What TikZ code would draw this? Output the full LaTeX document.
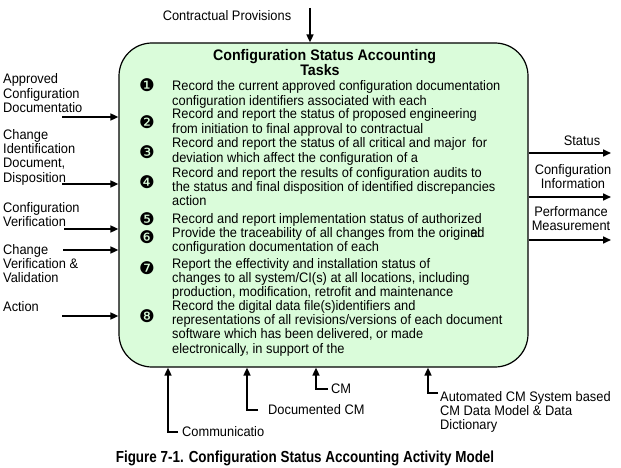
\documentclass[tikz,border=0pt]{standalone}
\usepackage{fontspec}
\setmainfont[FakeStretch=0.93]{Liberation Sans}
\newfontfamily\capfont[FakeStretch=0.84]{Liberation Sans}
\newfontfamily\dingfont{DejaVu Sans}
\usetikzlibrary{arrows.meta}
\definecolor{boxgreen}{RGB}{218,252,218}
\newcommand{\bodyfont}{\fontsize{13.8}{14.4}\selectfont}
\newcommand{\titlefont}{\bfseries\fontsize{15.3}{16}\selectfont}
\begin{document}
% note: multi-line nodes below are anchored at the baseline of their LAST line
\begin{tikzpicture}[x=1pt,y=-1pt]
\tikzset{
  lbl/.style={inner sep=0pt, anchor=base west, align=left, font=\bodyfont},
  clbl/.style={inner sep=0pt, anchor=base, align=center, font=\bodyfont},
  task/.style={inner sep=0pt, anchor=base west, align=left, font=\bodyfont},
  bul/.style={inner sep=0pt, font=\dingfont\fontsize{17.5}{17.5}\selectfont},
  arr/.style={line width=1.6pt, -{Triangle[length=8pt,width=7pt]}},
  actbox/.style={draw, fill=boxgreen, rounded corners=33pt, line width=1.2pt,
    minimum width=409pt, minimum height=324pt, inner sep=0pt}
}
\useasboundingbox (0,0) rectangle (621,468);
\node[actbox] (box) at (323.5,205) {};

% title
\node[inner sep=0pt, anchor=base, font=\titlefont] (title) at (324.5,61) {Configuration Status Accounting};
\node[inner sep=0pt, anchor=base, font=\titlefont] (tasks) at (320,75.5) {Tasks};

% bullets
\node[bul] (b1) at (147,85) {❶};
\node[bul] (b2) at (147,122) {❷};
\node[bul] (b3) at (147,152) {❸};
\node[bul] (b4) at (147,182) {❹};
\node[bul] (b5) at (147,219) {❺};
\node[bul] (b6) at (147,237) {❻};
\node[bul] (b7) at (147,268) {❼};
\node[bul] (b8) at (147,316) {❽};

% tasks
\node[task] (t1) at (172,105.4) {Record the current approved configuration documentation\\configuration identifiers associated with each};
\node[task] (t2) at (172,133.4) {Record and report the status of proposed engineering\\from initiation to final approval to contractual};
\node[task] (t3) at (172,162.4) {Record and report the status of all critical and major\hspace{6pt}for\\deviation which affect the configuration of a};
\node[task] (t4) at (172,205.8) {Record and report the results of configuration audits to\\the status and final disposition of identified discrepancies\\action};
\node[task] (t5) at (172,223) {Record and report implementation status of authorized};
\node[task] (t6) at (172,251.4) {Provide the traceability of all changes from the origin\rlap{al}ed\\configuration documentation of each};
\node[task] (t7) at (172,296.8) {Report the effectivity and installation status of\\changes to all system/CI(s) at all locations, including\\production, modification, retrofit and maintenance};
\node[task] (t8) at (172,353.2) {Record the digital data file(s)identifiers and\\representations of all revisions/versions of each document\\software which has been delivered, or made\\electronically, in support of the};

% top input
\node[inner sep=0pt, anchor=base, font=\bodyfont] (cp) at (227,21) {Contractual Provisions};
\coordinate (cpT) at (310,8);
\draw[arr] (cpT) -- (cpT |- box.north);

% left inputs
\node[lbl] (l1) at (3,112.8) {Approved\\Configuration\\Documentatio};
\node[lbl] (l2) at (3,182.2) {Change\\Identification\\Document,\\Disposition};
\node[lbl] (l3) at (3,226.4) {Configuration\\Verification};
\node[lbl] (l4) at (3,282.8) {Change\\Verification \&\\Validation};
\node[lbl] (l5) at (3,311) {Action};
\coordinate (i1) at (62,117);
\coordinate (i2) at (62,184);
\coordinate (i3) at (64,229);
\coordinate (i4) at (63,250);
\coordinate (i5) at (62,316);
\foreach \c in {i1,i2,i3,i4,i5} \draw[arr] (\c) -- (\c -| box.west);

% right outputs
\node[clbl] (r1) at (582,146) {Status};
\node[clbl] (r2) at (573,188.4) {Configuration\\Information};
\node[clbl] (r3) at (571,230.4) {Performance\\Measurement};
\coordinate (o1) at (611,153);
\coordinate (o2) at (611,197);
\coordinate (o3) at (611,240);
\foreach \c in {o1,o2,o3} \draw[arr] (\c -| box.east) -- (\c);

% bottom mechanisms
\node[lbl] (m1) at (182,436) {Communicatio};
\node[lbl] (m2) at (268,414) {Documented CM};
\node[lbl] (m3) at (331,393) {CM};
\node[lbl] (m4) at (440,429.8) {Automated CM System based\\CM Data Model \& Data\\Dictionary};
\coordinate (c1) at (178,432);
\coordinate (c2) at (258,410);
\coordinate (c3) at (328,389);
\coordinate (c4) at (438,393);
\coordinate (x1) at (168,0);
\coordinate (x2) at (247,0);
\coordinate (x3) at (316,0);
\coordinate (x4) at (428,0);
\draw[arr] (c1) -| (x1 |- box.south);
\draw[arr] (c2) -| (x2 |- box.south);
\draw[arr] (c3) -| (x3 |- box.south);
\draw[arr] (c4) -| (x4 |- box.south);

% caption
\node[inner sep=0pt, anchor=base, font=\capfont\bfseries\fontsize{16}{16}\selectfont] (cap) at (305,462) {Figure 7-1. Configuration Status Accounting Activity Model};
\end{tikzpicture}
\end{document}
